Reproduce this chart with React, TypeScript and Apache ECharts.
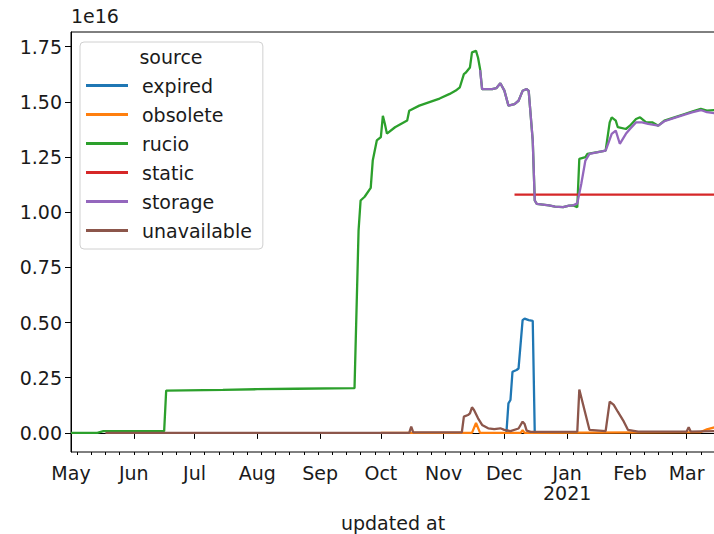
import React, { useEffect, useRef } from "react";
import * as echarts from "echarts";

const SERIES_NAMES = ["expired", "obsolete", "rucio", "static", "storage", "unavailable"];
const COLORS = ["#1f77b4", "#ff7f0e", "#2ca02c", "#d62728", "#9467bd", "#8c564b"];

const MONTH_TICKS = [
  "2020-05-01", "2020-06-01", "2020-07-01", "2020-08-01", "2020-09-01", "2020-10-01",
  "2020-11-01", "2020-12-01", "2021-01-01", "2021-02-01", "2021-03-01",
];
const MONTH_LABELS = ["May", "Jun", "Jul", "Aug", "Sep", "Oct", "Nov", "Dec", "Jan\n2021", "Feb", "Mar"];
const Y_TICKS = [0, 0.25, 0.5, 0.75, 1.0, 1.25, 1.5, 1.75];

// values in units of 1e16
const expired: [string, number][] = [
  ["2020-12-02", 0.0], ["2020-12-03", 0.134], ["2020-12-04", 0.149], ["2020-12-05", 0.277],
  ["2020-12-07", 0.285], ["2020-12-08", 0.292], ["2020-12-10", 0.511], ["2020-12-11", 0.518],
  ["2020-12-13", 0.511], ["2020-12-15", 0.508], ["2020-12-16", 0.0],
];

const obsolete: [string, number][] = [
  ["2020-10-01", 0.0], ["2020-11-15", 0.0], ["2020-11-17", 0.045], ["2020-11-19", 0.0],
  ["2020-12-09", 0.0], ["2020-12-10", 0.012], ["2020-12-11", 0.0], ["2021-03-08", 0.004],
  ["2021-03-11", 0.016], ["2021-03-15", 0.026],
];

const rucio: [string, number][] = [
  ["2020-05-01", 0.0], ["2020-05-14", 0.0], ["2020-05-17", 0.008], ["2020-06-16", 0.008],
  ["2020-06-17", 0.192], ["2020-07-15", 0.195], ["2020-08-01", 0.198], ["2020-08-20", 0.2],
  ["2020-09-18", 0.203], ["2020-09-20", 0.918], ["2020-09-21", 1.053], ["2020-09-23", 1.07],
  ["2020-09-26", 1.11], ["2020-09-27", 1.234], ["2020-09-29", 1.325], ["2020-10-01", 1.34],
  ["2020-10-02", 1.437], ["2020-10-03", 1.4], ["2020-10-04", 1.356], ["2020-10-08", 1.385],
  ["2020-10-14", 1.415], ["2020-10-15", 1.46], ["2020-10-20", 1.483], ["2020-10-30", 1.515],
  ["2020-11-04", 1.536], ["2020-11-07", 1.551], ["2020-11-09", 1.566], ["2020-11-11", 1.626],
  ["2020-11-12", 1.633], ["2020-11-14", 1.656], ["2020-11-15", 1.724], ["2020-11-17", 1.731],
  ["2020-11-18", 1.7], ["2020-11-19", 1.649], ["2020-11-20", 1.558], ["2020-11-25", 1.558],
  ["2020-11-27", 1.562], ["2020-11-29", 1.584], ["2020-12-01", 1.551], ["2020-12-03", 1.483],
  ["2020-12-06", 1.49], ["2020-12-08", 1.505], ["2020-12-10", 1.55], ["2020-12-12", 1.558],
  ["2020-12-13", 1.55], ["2020-12-15", 1.325], ["2020-12-16", 1.053], ["2020-12-17", 1.038],
  ["2020-12-23", 1.031], ["2020-12-26", 1.025], ["2020-12-30", 1.023], ["2021-01-02", 1.03],
  ["2021-01-04", 1.031], ["2021-01-06", 1.023], ["2021-01-07", 1.242], ["2021-01-10", 1.25],
  ["2021-01-11", 1.264], ["2021-01-16", 1.272], ["2021-01-20", 1.279], ["2021-01-22", 1.407],
  ["2021-01-23", 1.43], ["2021-01-25", 1.415], ["2021-01-26", 1.385], ["2021-01-30", 1.377],
  ["2021-02-01", 1.392], ["2021-02-04", 1.422], ["2021-02-06", 1.43], ["2021-02-09", 1.407],
  ["2021-02-12", 1.407], ["2021-02-15", 1.392], ["2021-02-18", 1.415], ["2021-02-23", 1.43],
  ["2021-02-28", 1.445], ["2021-03-04", 1.457], ["2021-03-08", 1.468], ["2021-03-11", 1.46],
  ["2021-03-15", 1.463],
];

const staticSrc: [string, number][] = [
  ["2020-12-06", 1.08], ["2021-01-15", 1.08], ["2021-02-15", 1.08], ["2021-03-15", 1.08],
];

const storage: [string, number][] = [
  ["2020-11-19", 1.644], ["2020-11-20", 1.558], ["2020-11-25", 1.558], ["2020-11-27", 1.562],
  ["2020-11-29", 1.584], ["2020-12-01", 1.551], ["2020-12-03", 1.483], ["2020-12-06", 1.49],
  ["2020-12-08", 1.505], ["2020-12-10", 1.55], ["2020-12-12", 1.558], ["2020-12-13", 1.55],
  ["2020-12-15", 1.325], ["2020-12-16", 1.053], ["2020-12-17", 1.038], ["2020-12-23", 1.031],
  ["2020-12-26", 1.025], ["2020-12-30", 1.023], ["2021-01-02", 1.03], ["2021-01-04", 1.031],
  ["2021-01-06", 1.04], ["2021-01-08", 1.13], ["2021-01-10", 1.234], ["2021-01-12", 1.264],
  ["2021-01-20", 1.279], ["2021-01-23", 1.355], ["2021-01-25", 1.37], ["2021-01-27", 1.31],
  ["2021-01-30", 1.355], ["2021-02-01", 1.377], ["2021-02-04", 1.407], ["2021-02-07", 1.407],
  ["2021-02-10", 1.4], ["2021-02-15", 1.392], ["2021-02-18", 1.412], ["2021-02-23", 1.427],
  ["2021-02-28", 1.442], ["2021-03-04", 1.453], ["2021-03-08", 1.463], ["2021-03-11", 1.453],
  ["2021-03-15", 1.448],
];

const unavailable: [string, number][] = [
  ["2020-05-18", 0.0], ["2020-10-15", 0.0], ["2020-10-16", 0.028], ["2020-10-17", 0.002],
  ["2020-11-10", 0.003], ["2020-11-11", 0.074], ["2020-11-13", 0.081], ["2020-11-14", 0.089],
  ["2020-11-15", 0.116], ["2020-11-16", 0.104], ["2020-11-18", 0.066], ["2020-11-20", 0.036],
  ["2020-11-23", 0.021], ["2020-11-26", 0.017], ["2020-11-29", 0.021], ["2020-12-01", 0.014],
  ["2020-12-04", 0.008], ["2020-12-08", 0.02], ["2020-12-10", 0.051], ["2020-12-11", 0.04],
  ["2020-12-12", 0.01], ["2020-12-14", 0.005], ["2021-01-06", 0.006], ["2021-01-07", 0.197],
  ["2021-01-12", 0.014], ["2021-01-20", 0.008], ["2021-01-22", 0.142], ["2021-01-24", 0.127],
  ["2021-01-26", 0.096], ["2021-01-29", 0.051], ["2021-01-31", 0.014], ["2021-02-05", 0.006],
  ["2021-03-01", 0.006], ["2021-03-02", 0.026], ["2021-03-03", 0.006], ["2021-03-15", 0.008],
];

const SERIES_DATA = [expired, obsolete, rucio, staticSrc, storage, unavailable];

const X_MIN = "2020-05-01";
const X_MAX = "2021-03-15";
const Y_MIN = -0.0865;
const Y_MAX = 1.8165;

const FONT = "'DejaVu Sans', sans-serif";
const FS = 19;
const TXT = "#1a1a1a";

function pt(s: string): number {
  const [y, m, d] = s.split("-").map(Number);
  return new Date(y, m - 1, d).getTime();
}

function weeklyTicks(): number[] {
  const out: number[] = [];
  const end = pt(X_MAX);
  for (let i = 0; ; i++) {
    const t = new Date(2020, 4, 4 + i * 7).getTime();
    if (t > end) break;
    out.push(t);
  }
  return out;
}

export default function App() {
  const ref = useRef<HTMLDivElement>(null);

  useEffect(() => {
    if (!ref.current) return;
    const chart = echarts.init(ref.current, undefined, { renderer: "svg" });
    const monthTs = MONTH_TICKS.map(pt);

    const option: any = {
      animation: false,
      backgroundColor: "#fff",
      textStyle: { fontFamily: FONT },
      grid: {
        left: 71,
        top: 32,
        right: -1,
        bottom: 82,
        outerBoundsMode: "none",
        containLabel: false,
        show: true,
        borderColor: "#000",
        borderWidth: 1,
        backgroundColor: "transparent",
      },
      legend: {
        data: SERIES_NAMES,
        orient: "vertical",
        left: 80,
        top: 42,
        padding: [34, 11, 9, 6],
        itemGap: 10,
        itemWidth: 42,
        itemHeight: 3,
        icon: "rect",
        backgroundColor: "rgba(255,255,255,0.8)",
        borderColor: "#d0d0d0",
        borderWidth: 1,
        borderRadius: 4,
        textStyle: { fontSize: FS, color: TXT, fontFamily: FONT, padding: [0, 0, 0, 9] },
      },
      graphic: [
        {
          type: "text",
          x: 171,
          y: 57,
          z: 100,
          style: {
            text: "source",
            align: "center",
            verticalAlign: "middle",
            fontSize: FS,
            fontFamily: FONT,
            fill: TXT,
          },
        },
      ],
      xAxis: [
        {
          type: "value",
          min: pt(X_MIN),
          max: pt(X_MAX),
          name: "updated at",
          nameLocation: "middle",
          nameGap: 61,
          nameTextStyle: { fontSize: FS, color: TXT, fontFamily: FONT },
          axisLine: { show: true, lineStyle: { color: "#000", width: 1 } },
          axisTick: { show: true, length: 6, lineStyle: { color: "#000" }, customValues: monthTs },
          splitLine: { show: false },
          axisLabel: {
            customValues: monthTs,
            margin: 11,
            fontSize: FS,
            lineHeight: 20,
            color: TXT,
            fontFamily: FONT,
            hideOverlap: false,
            formatter: (v: number) => {
              const i = monthTs.findIndex((t) => Math.abs(t - v) < 3600000);
              return i >= 0 ? MONTH_LABELS[i] : "";
            },
          },
        },
        {
          type: "value",
          min: pt(X_MIN),
          max: pt(X_MAX),
          position: "bottom",
          axisLine: { show: false },
          axisTick: { show: true, length: 3, lineStyle: { color: "#000" }, customValues: weeklyTicks() },
          axisLabel: { show: false },
          splitLine: { show: false },
        },
      ],
      yAxis: {
        type: "value",
        min: Y_MIN,
        max: Y_MAX,
        name: "1e16",
        nameLocation: "end",
        nameGap: 7,
        nameTextStyle: { fontSize: FS, color: TXT, fontFamily: FONT, align: "left" },
        axisLine: { show: true, lineStyle: { color: "#000", width: 1 } },
        axisTick: { show: true, length: 6, lineStyle: { color: "#000" }, customValues: Y_TICKS },
        splitLine: { show: false },
        axisLabel: {
          customValues: Y_TICKS,
          margin: 9,
          fontSize: FS,
          color: TXT,
          fontFamily: FONT,
          formatter: (v: number) => v.toFixed(2),
        },
      },
      series: SERIES_NAMES.map((name, i) => ({
        name,
        type: "line",
        xAxisIndex: 0,
        symbol: "none",
        showSymbol: false,
        color: COLORS[i],
        lineStyle: { width: 2.3, color: COLORS[i] },
        data: SERIES_DATA[i].map(([d, v]) => [pt(d), v]),
      })),
    };

    chart.setOption(option);
    return () => chart.dispose();
  }, []);

  return <div ref={ref} style={{ width: 714, height: 534, position: "absolute", left: 0, top: 0 }} />;
}
